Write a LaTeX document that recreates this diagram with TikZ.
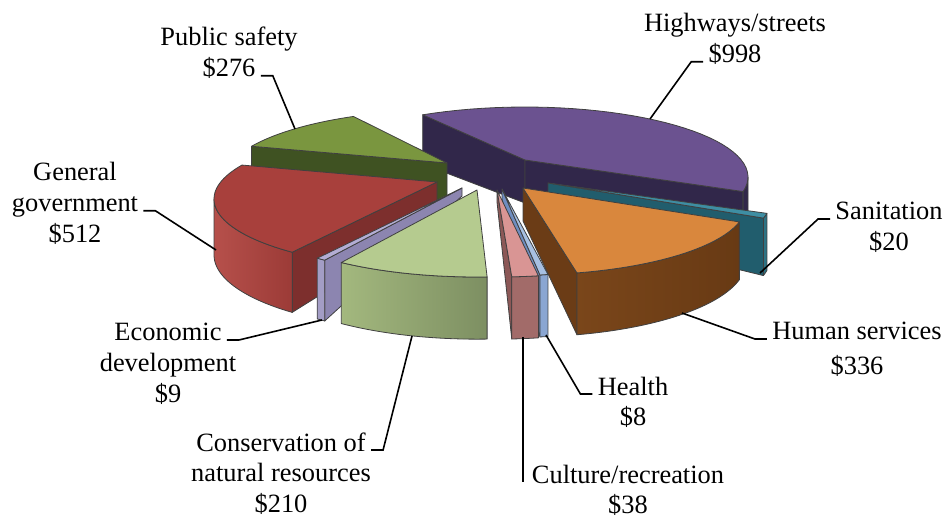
\documentclass[tikz,border=0pt]{standalone}
\usepackage{fontspec}
\setmainfont{Liberation Serif}
\newfontfamily\lblfont{Liberation Serif}
\usetikzlibrary{positioning}

\definecolor{hwtop}{HTML}{6B5290}
\definecolor{hwside}{HTML}{31274A}
\definecolor{pstop}{HTML}{7A963F}
\definecolor{psside}{HTML}{3F5222}
\definecolor{sntop}{HTML}{3E8EA3}
\definecolor{snside}{HTML}{215D6D}
\definecolor{snrim}{HTML}{2D7384}
\definecolor{getop}{HTML}{A8403C}
\definecolor{geside}{HTML}{7D2F2D}
\definecolor{gerimA}{HTML}{B6504B}
\definecolor{gerimB}{HTML}{9C3B37}
\definecolor{ectop}{HTML}{B3ADD4}
\definecolor{ecside}{HTML}{8C85B0}
\definecolor{ecrim}{HTML}{A39DC5}
\definecolor{cotop}{HTML}{B5CB8F}
\definecolor{corimA}{HTML}{A3B87E}
\definecolor{corimB}{HTML}{7D8F62}
\definecolor{hstop}{HTML}{D9873D}
\definecolor{hsside}{HTML}{6B3C16}
\definecolor{hsrimA}{HTML}{7A461A}
\definecolor{hsrimB}{HTML}{683A14}
\definecolor{cutop}{HTML}{D99594}
\definecolor{cuside}{HTML}{8C5857}
\definecolor{curim}{HTML}{A26B69}
\definecolor{hetop}{HTML}{A7C0E2}
\definecolor{heside}{HTML}{6F8DC0}
\definecolor{herim}{HTML}{8AA6D2}

% half axes of the rim, apex offset
\newcommand{\pieA}{223}
\newcommand{\pieB}{70}
\newcommand{\pieD}{17}

% #1,#2 rim centre, #3,#4 angles, #5 fill
\newcommand{\topface}[5]{%
  \path[pieedge,#5] (#1,{#2-\pieD})
    -- plot[pieplot,domain=#3:#4] ({#1+\pieA*cos(\ang)},{#2-\pieB*sin(\ang)}) -- cycle;}
\newcommand{\rimface}[5]{%
  \path[pieedge,#5] plot[pieplot,domain=#3:#4] ({#1+\pieA*cos(\ang)},{#2-\pieB*sin(\ang)})
    -- plot[pieplot,domain=#4:#3] ({#1+\pieA*cos(\ang)},{#2-\pieB*sin(\ang)+dep(#2-\pieB*sin(\ang))}) -- cycle;}
% #3 angle of the cut, #4 depth at the apex
\newcommand{\cutface}[5]{%
  \path[pieedge,#5] (#1,{#2-\pieD})
    -- ({#1+\pieA*cos(#3)},{#2-\pieB*sin(#3)})
    -- ({#1+\pieA*cos(#3)},{#2-\pieB*sin(#3)+dep(#2-\pieB*sin(#3))})
    -- (#1,{#2-\pieD+#4}) -- cycle;}

\begin{document}
\begin{tikzpicture}[x=0.5pt,y=-0.5pt,
  pieedge/.style={draw=black!75,line width=0.4pt,line join=round},
  pieplot/.style={samples=40,variable=\ang},
  lbl/.style={inner xsep=2.5pt,inner ysep=0pt,text height=8pt,text depth=7pt,
    font=\lblfont\fontsize{13.2}{15}\selectfont},
  leader/.style={draw=black,line width=0.8pt},
  declare function={dep(\q)=60+(\q-250)*0.08;}]
\useasboundingbox (0,0) rectangle (948,518);

% highways/streets
\cutface{525}{177}{117.3}{43}{fill=hwside}
\cutface{525}{177}{-12}{43}{fill=hwside}
\rimface{525}{177}{-12}{0}{fill=hwside}
\topface{525}{177}{-12}{117.3}{fill=hwtop}
% public safety
\cutface{447}{180}{151.2}{40}{fill=psside}
\topface{447}{180}{114.8}{151.2}{fill=pstop}
% sanitation
\cutface{548}{200}{-15}{40}{fill=snside}
\rimface{548}{200}{-15}{-11}{fill=snrim}
\topface{548}{200}{-15}{-11}{fill=sntop}
% general government
\cutface{437}{199}{229.5}{40}{fill=geside}
\rimface{437}{199}{180}{229.5}{left color=gerimA,right color=gerimB}
\topface{437}{199}{151}{229.5}{fill=getop}
% economic development
\cutface{462}{205}{232}{8}{fill=ecside}
\rimface{462}{205}{229.5}{232}{fill=ecrim}
\topface{462}{205}{229.5}{232}{fill=ectop}
% conservation
\rimface{477}{207}{232.5}{272.6}{left color=corimA,right color=corimB}
\topface{477}{207}{232.5}{272.6}{fill=cotop}
% human services
\cutface{523}{205}{-76}{33}{fill=hsside}
\rimface{523}{205}{-76}{-14}{left color=hsrimA,right color=hsrimB}
\topface{523}{205}{-76}{-14}{fill=hstop}
% health
\cutface{502}{206}{-80.2}{10}{fill=heside}
\rimface{502}{206}{-80.2}{-78.1}{fill=herim}
\topface{502}{206}{-80.2}{-78.1}{fill=hetop}
% culture/recreation
\cutface{497}{207}{-86.2}{12}{fill=cuside}
\rimface{497}{207}{-86.2}{-79.3}{fill=curim}
\topface{497}{207}{-86.2}{-79.3}{fill=cutop}

% labels
\node[lbl,anchor=base] (hw1) at (735,32) {Highways/streets};
\node[lbl,below=0pt of hw1] (hw2) {\$998};
\node[lbl,anchor=base] (sn1) at (889,220) {Sanitation};
\node[lbl,below=0pt of sn1] (sn2) {\$20};
\node[lbl,anchor=base] (hs1) at (857,340) {Human services};
\node[lbl,below=2pt of hs1] (hs2) {\$336};
\node[lbl,anchor=base] (he1) at (633,395) {Health};
\node[lbl,below=0pt of he1] (he2) {\$8};
\node[lbl,anchor=base] (cu1) at (628,483) {Culture/recreation};
\node[lbl,below=0pt of cu1] (cu2) {\$38};
\node[lbl,anchor=base] (co1) at (281,451) {Conservation of};
\node[lbl,below=0pt of co1] (co2) {natural resources};
\node[lbl,below=0pt of co2] (co3) {\$210};
\node[lbl,anchor=base] (ec1) at (168,341) {Economic};
\node[lbl,below=0pt of ec1] (ec2) {development};
\node[lbl,below=0pt of ec2] (ec3) {\$9};
\node[lbl,anchor=base] (ge1) at (75,181) {General};
\node[lbl,below=0pt of ge1] (ge2) {government};
\node[lbl,below=0pt of ge2] (ge3) {\$512};
\node[lbl,anchor=base] (ps1) at (229,46) {Public safety};
\node[lbl,below=0pt of ps1] (ps2) {\$276};

% leader lines
\coordinate (hw-pt) at (650,119);
\coordinate (sn-pt) at (760,273);
\coordinate (hs-pt) at (682,313);
\coordinate (he-pt) at (546,335);
\coordinate (cu-pt) at (523,337);
\coordinate (co-pt) at (412,336);
\coordinate (ec-pt) at (322,320);
\coordinate (ge-pt) at (216,250);
\coordinate (ps-pt) at (295,129);
\draw[leader] (hw-pt) -- ([xshift=-6pt]hw2.west) -- (hw2.west);
\draw[leader] (sn-pt) -- ([xshift=-6pt]sn1.west) -- (sn1.west);
\draw[leader] (hs-pt) -- ([xshift=-6pt]hs1.west) -- (hs1.west);
\draw[leader] (he-pt) -- ([xshift=-6pt]he1.west) -- (he1.west);
\draw[leader] (cu-pt) -- (cu-pt |- cu1.west);
\draw[leader] (co-pt) -- ([xshift=6pt]co1.east) -- (co1.east);
\draw[leader] (ec-pt) -- ([xshift=6pt]ec1.east) -- (ec1.east);
\draw[leader] (ge-pt) -- ([xshift=6pt]ge2.east) -- (ge2.east);
\draw[leader] (ps-pt) -- ([xshift=6pt]ps2.east) -- (ps2.east);
\end{tikzpicture}
\end{document}
